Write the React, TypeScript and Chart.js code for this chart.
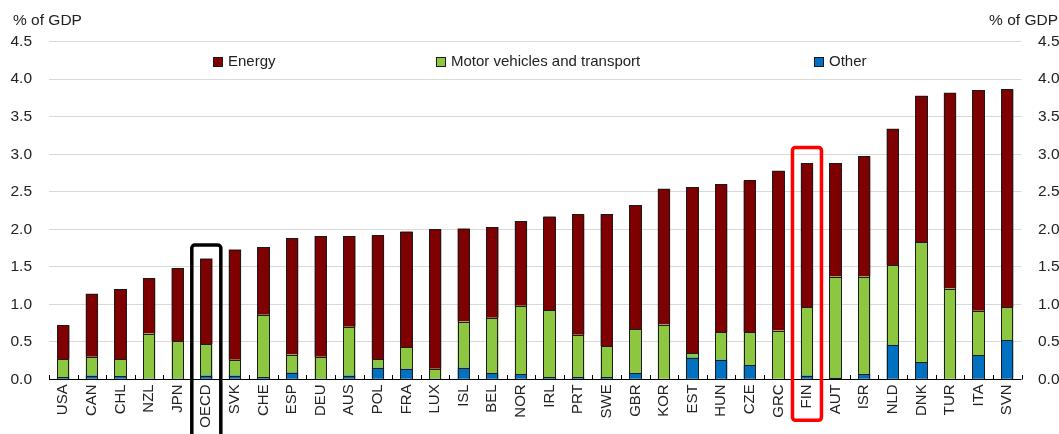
import React, { useEffect, useRef } from "react";
import { Chart, registerables } from "chart.js";

Chart.register(...registerables);

const categories = [
  "USA", "CAN", "CHL", "NZL", "JPN", "OECD", "SVK", "CHE", "ESP", "DEU", "AUS",
  "POL", "FRA", "LUX", "ISL", "BEL", "NOR", "IRL", "PRT", "SWE", "GBR", "KOR",
  "EST", "HUN", "CZE", "GRC", "FIN", "AUT", "ISR", "NLD", "DNK", "TUR", "ITA", "SVN",
];

const other = [
  0.03, 0.05, 0.04, 0.01, 0.01, 0.05, 0.05, 0.03, 0.09, 0.01, 0.05,
  0.155, 0.14, 0.01, 0.155, 0.08, 0.07, 0.03, 0.03, 0.03, 0.08, 0,
  0.29, 0.26, 0.19, 0, 0.05, 0.02, 0.07, 0.46, 0.23, 0, 0.32, 0.52,
];

const motor = [
  0.24, 0.25, 0.23, 0.6, 0.5, 0.42, 0.21, 0.83, 0.24, 0.29, 0.65,
  0.115, 0.29, 0.13, 0.615, 0.74, 0.91, 0.89, 0.565, 0.41, 0.59, 0.73,
  0.06, 0.37, 0.44, 0.65, 0.91, 1.35, 1.3, 1.06, 1.6, 1.21, 0.595, 0.44,
];

const energy = [
  0.45, 0.84, 0.93, 0.74, 0.97, 1.14, 1.47, 0.9, 1.55, 1.61, 1.21,
  1.65, 1.54, 1.86, 1.24, 1.21, 1.13, 1.25, 1.605, 1.76, 1.65, 1.81,
  2.21, 1.97, 2.02, 2.13, 1.92, 1.51, 1.6, 1.82, 1.95, 2.61, 2.935, 2.905,
];

const seriesLabels = ["Energy", "Motor vehicles and transport", "Other"];
const axisTitle = "% of GDP";
const yMin = 0;
const yMax = 4.5;
const yStep = 0.5;

const highlightCategories = ["OECD", "FIN"];
const highlightTops = [1.79, 3.09];

const COLORS = {
  energy: "#7F0000",
  motor: "#8DC63F",
  other: "#0070C0",
  border: "#1A1A1A",
};
const FONT = "'Liberation Sans', Arial, sans-serif";

const outlinePlugin = {
  id: "outline",
  afterDatasetsDraw(chart: any) {
    const ctx = chart.ctx;
    ctx.save();
    ctx.strokeStyle = COLORS.border;
    ctx.lineWidth = 1;
    chart.data.datasets.forEach((ds: any, di: number) => {
      const meta = chart.getDatasetMeta(di);
      meta.data.forEach((el: any, i: number) => {
        if (!ds.data[i]) return;
        const p = el.getProps(["x", "y", "base", "width"], true);
        const l = Math.round(p.x - p.width / 2) + 0.5;
        const r = Math.round(p.x + p.width / 2) - 0.5;
        const t = Math.round(p.y) + 0.5;
        const b = Math.round(p.base) + 0.5;
        ctx.strokeRect(l, t, r - l, b - t);
      });
    });
    ctx.restore();
  },
};

const overlayPlugin = {
  id: "overlay",
  afterDraw(chart: any) {
    const ctx = chart.ctx;
    const area = chart.chartArea;
    const xs = chart.scales.x;
    const ys = chart.scales.y;
    const n = categories.length;
    const cw = (area.right - area.left) / n;
    ctx.save();

    // x axis line and inner tick marks
    ctx.strokeStyle = "#000";
    ctx.lineWidth = 1;
    ctx.beginPath();
    ctx.moveTo(area.left, Math.round(area.bottom) + 0.5);
    ctx.lineTo(area.right, Math.round(area.bottom) + 0.5);
    for (let i = 0; i <= n; i++) {
      const x = Math.round(area.left + i * cw) + 0.5;
      ctx.moveTo(x, Math.round(area.bottom) + 0.5);
      ctx.lineTo(x, Math.round(area.bottom) - 4);
    }
    ctx.stroke();

    // highlight boxes
    const boxColors = ["#000000", "#FF0000"];
    const boxBottoms = [chart.height + 6, area.bottom + 41];
    highlightCategories.forEach((cat, k) => {
      const idx = categories.indexOf(cat);
      const cx = xs.getPixelForValue(idx);
      const top = ys.getPixelForValue(highlightTops[k]);
      const left = cx - 14.5;
      const w = 29;
      const h = boxBottoms[k] - top;
      ctx.strokeStyle = boxColors[k];
      ctx.lineWidth = 3.5;
      ctx.beginPath();
      if (ctx.roundRect) ctx.roundRect(left, top, w, h, 3);
      else ctx.rect(left, top, w, h);
      ctx.stroke();
    });

    // legend
    const legendOffsets = [163.5, 387, 764.5];
    const legendColors = [COLORS.energy, COLORS.motor, COLORS.other];
    ctx.font = `15px ${FONT}`;
    ctx.textBaseline = "middle";
    ctx.textAlign = "left";
    seriesLabels.forEach((label, k) => {
      const mx = Math.round(area.left + legendOffsets[k]);
      ctx.fillStyle = legendColors[k];
      ctx.fillRect(mx, 57, 10, 9);
      ctx.strokeStyle = COLORS.border;
      ctx.lineWidth = 1;
      ctx.strokeRect(mx + 0.5, 57.5, 9, 9);
      ctx.fillStyle = "#222";
      ctx.fillText(label, mx + 15, 61.5);
    });

    // axis titles
    ctx.fillStyle = "#222";
    ctx.font = `15.5px ${FONT}`;
    ctx.textAlign = "left";
    ctx.fillText(axisTitle, 13, 21);
    ctx.textAlign = "right";
    ctx.fillText(axisTitle, chart.width - 1, 21);
    ctx.restore();
  },
};

export default function App() {
  const canvasRef = useRef<HTMLCanvasElement | null>(null);

  useEffect(() => {
    document.body.style.margin = "0";
    const canvas = canvasRef.current;
    if (!canvas) return;
    const fmt = (v: any) => Number(v).toFixed(1);
    const chart = new Chart(canvas, {
      type: "bar",
      data: {
        labels: categories,
        datasets: [
          { label: seriesLabels[2], data: other, backgroundColor: COLORS.other },
          { label: seriesLabels[1], data: motor, backgroundColor: COLORS.motor },
          { label: seriesLabels[0], data: energy, backgroundColor: COLORS.energy },
        ].map((d) => ({
          ...d,
          borderWidth: 0,
          barPercentage: 0.43,
          categoryPercentage: 1,
        })),
      },
      options: {
        animation: false,
        responsive: false,
        maintainAspectRatio: false,
        layout: { padding: { top: 41.7, left: 0, right: 0, bottom: 0 } },
        plugins: {
          legend: { display: false },
          tooltip: { enabled: false },
          title: { display: false },
        },
        scales: {
          x: {
            stacked: true,
            grid: { display: false, drawTicks: false },
            border: { display: false },
            ticks: {
              autoSkip: false,
              minRotation: 90,
              maxRotation: 90,
              padding: 5,
              color: "#222",
              font: { family: FONT, size: 15 },
            },
            afterFit: (s: any) => {
              s.height = 54.7;
            },
          },
          y: {
            stacked: true,
            position: "left",
            min: yMin,
            max: yMax,
            grid: {
              color: (c: any) => (c.tick && c.tick.value === 0 ? "rgba(0,0,0,0)" : "#D9D9D9"),
              lineWidth: 1,
              drawTicks: false,
            },
            border: { display: false },
            ticks: {
              stepSize: yStep,
              padding: 17,
              color: "#222",
              font: { family: FONT, size: 15.5 },
              callback: fmt,
            },
            afterFit: (s: any) => {
              s.width = 49;
            },
          },
          y2: {
            position: "right",
            min: yMin,
            max: yMax,
            grid: { display: false, drawTicks: false },
            border: { display: false },
            ticks: {
              stepSize: yStep,
              padding: 16.5,
              color: "#222",
              font: { family: FONT, size: 15.5 },
              callback: fmt,
            },
            afterFit: (s: any) => {
              s.width = 37.5;
            },
          },
        },
      },
      plugins: [outlinePlugin, overlayPlugin],
    });
    return () => chart.destroy();
  }, []);

  return (
    <div style={{ width: 1059, height: 434, position: "relative", background: "#fff" }}>
      <canvas ref={canvasRef} width={1059} height={434} style={{ display: "block" }} />
    </div>
  );
}
